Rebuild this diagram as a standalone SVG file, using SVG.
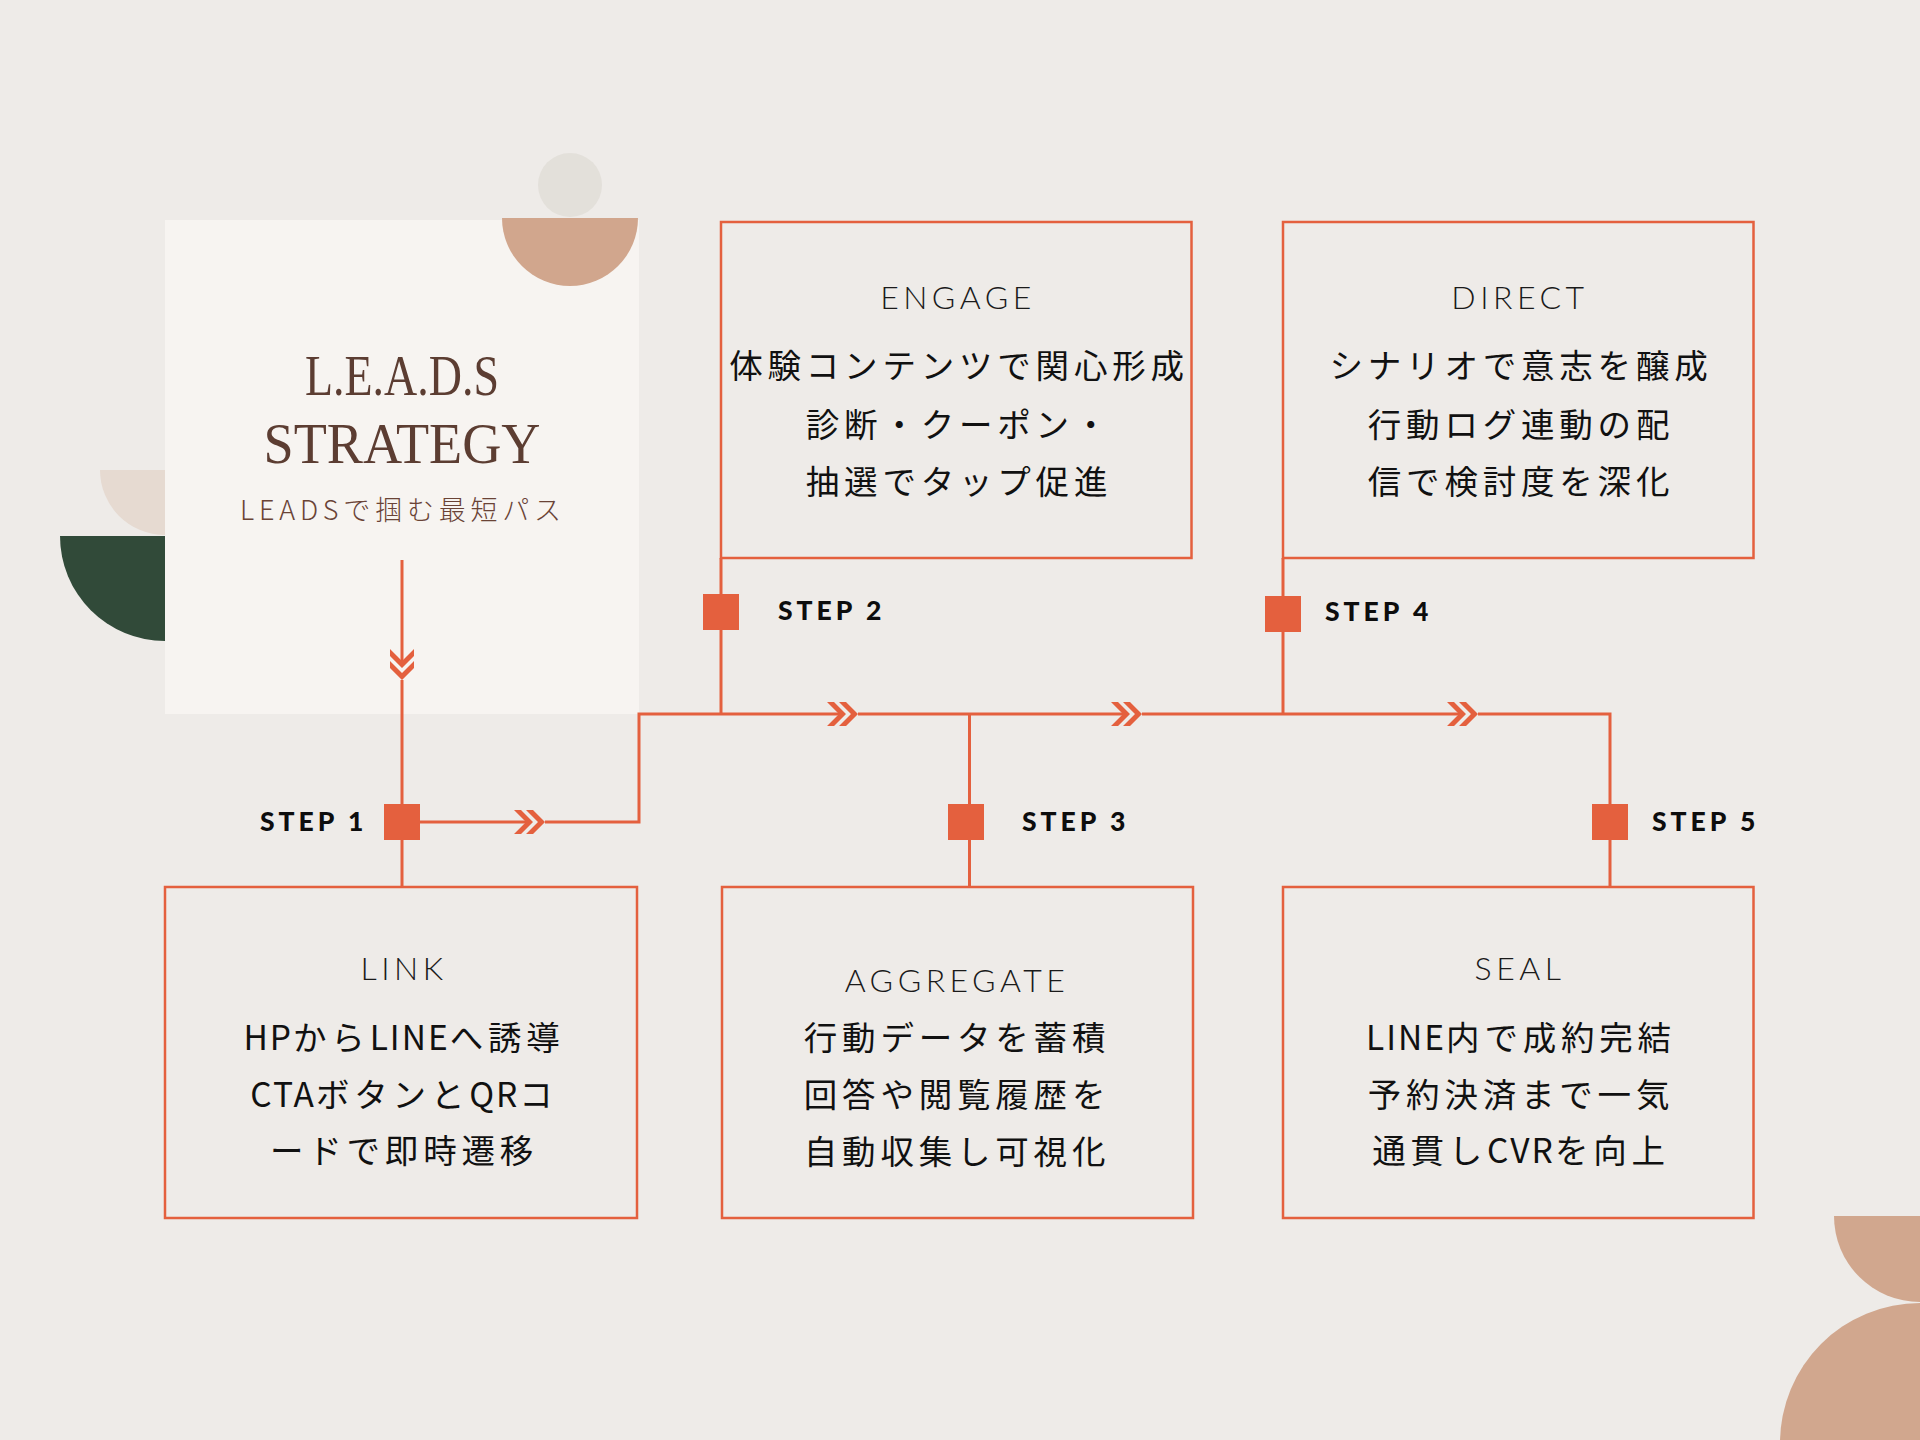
<svg xmlns="http://www.w3.org/2000/svg" xmlns:xlink="http://www.w3.org/1999/xlink" width="1920" height="1440" viewBox="0 0 1920 1440">
<defs>
<style>
.box{fill:none;stroke:#E4603E;stroke-width:2.5}
.ln{fill:none;stroke:#E4603E;stroke-width:3}
.sq{fill:#E4603E}
.chev{fill:#E4603E}
.ttl{font-family:"Lato","Inter","Liberation Sans",sans-serif;font-weight:300;font-size:32px;letter-spacing:4.5px;fill:#1A1A1A;text-anchor:middle}
.jp{font-family:"Noto Sans CJK JP","Noto Sans",sans-serif;font-weight:400;font-size:33.5px;letter-spacing:4.8px;fill:#111111;text-anchor:middle}
.lat{letter-spacing:2px}
.step{font-family:"Lato","Inter","Liberation Sans",sans-serif;font-weight:900;font-size:26.5px;letter-spacing:4px;fill:#0D0D0D}
.head{font-family:"Liberation Serif","DejaVu Serif",serif;font-size:56px;fill:#5C3D32;text-anchor:middle}
.sub{font-family:"Noto Sans CJK JP","Noto Sans",sans-serif;font-weight:300;font-size:27px;letter-spacing:4.8px;fill:#6A4336;text-anchor:middle}
</style>
<path id="chevR" d="M-31,-12 L-24,-12 L-12,0 L-24,12 L-31,12 L-19,0 Z M-19,-12 L-12,-12 L0,0 L-12,12 L-19,12 L-7,0 Z"/>
</defs>
<rect width="1920" height="1440" fill="#EEEBE8"/>
<g id="decor">
<circle cx="570" cy="185" r="32" fill="#E3E0DA"/>
<path d="M100,470 A65,65 0 0 0 230,470 Z" fill="#E6DAD1"/>
<path d="M60,536 A105,105 0 0 0 270,536 Z" fill="#314A39"/>
<path d="M1834,1216 A86,86 0 0 0 2006,1216 Z" fill="#D1A78E"/>
<circle cx="1920" cy="1443" r="140" fill="#D1A78E"/>
</g>
<g id="title-panel">
<rect x="165" y="220" width="474" height="494" fill="#F7F4F1"/>
<path d="M502,218 A68,68 0 0 0 638,218 Z" fill="#D1A68D"/>
<text class="head" x="402" y="395" textLength="194" lengthAdjust="spacingAndGlyphs">L.E.A.D.S</text>
<text class="head" x="402" y="463" textLength="277" lengthAdjust="spacingAndGlyphs">STRATEGY</text>
<text class="sub" x="403" y="520">LEADSで掴む最短パス</text>
</g>
<g id="connectors">
<path class="ln" d="M402,560 V661 M402,680 V887"/>
<path class="ln" d="M420,822 H526 M545,822 H639 V714 H839 M858,714 H1123 M1142,714 H1459 M1478,714 H1610 V887"/>
<path class="ln" d="M721,558 V714"/>
<path class="ln" d="M969.5,714 V887"/>
<path class="ln" d="M1283,558 V714"/>
<use xlink:href="#chevR" href="#chevR" class="chev" transform="translate(402,680) rotate(90)"/>
<use xlink:href="#chevR" href="#chevR" class="chev" transform="translate(545,822)"/>
<use xlink:href="#chevR" href="#chevR" class="chev" transform="translate(858,714)"/>
<use xlink:href="#chevR" href="#chevR" class="chev" transform="translate(1142,714)"/>
<use xlink:href="#chevR" href="#chevR" class="chev" transform="translate(1478,714)"/>
</g>
<g id="step1">
<rect class="sq" x="384" y="804" width="36" height="36"/>
<text class="step" x="260" y="831">STEP 1</text>
</g>
<g id="step2">
<rect class="sq" x="703" y="594" width="36" height="36"/>
<text class="step" x="778" y="620">STEP 2</text>
</g>
<g id="step3">
<rect class="sq" x="948" y="804" width="36" height="36"/>
<text class="step" x="1022" y="831">STEP 3</text>
</g>
<g id="step4">
<rect class="sq" x="1265" y="596" width="36" height="36"/>
<text class="step" x="1325" y="621">STEP 4</text>
</g>
<g id="step5">
<rect class="sq" x="1592" y="804" width="36" height="36"/>
<text class="step" x="1652" y="831">STEP 5</text>
</g>
<g id="engage">
<rect class="box" x="721" y="222" width="470.5" height="336"/>
<text class="ttl" x="958" y="309">ENGAGE</text>
<text class="jp" x="959" y="378">体験コンテンツで関心形成</text>
<text class="jp" x="959" y="437">診断・クーポン・</text>
<text class="jp" x="959" y="494">抽選でタップ促進</text>
</g>
<g id="direct">
<rect class="box" x="1283" y="222" width="470.5" height="336"/>
<text class="ttl" x="1520" y="309">DIRECT</text>
<text class="jp" x="1521" y="378">シナリオで意志を醸成</text>
<text class="jp" x="1521" y="437">行動ログ連動の配</text>
<text class="jp" x="1521" y="494">信で検討度を深化</text>
</g>
<g id="link">
<rect class="box" x="165" y="887" width="472" height="331"/>
<text class="ttl" x="404" y="980">LINK</text>
<text class="jp" x="404" y="1050"><tspan class="lat">HP</tspan>から<tspan class="lat">LINE</tspan>へ誘導</text>
<text class="jp" x="404" y="1107"><tspan class="lat">CTA</tspan>ボタンと<tspan class="lat">QR</tspan>コ</text>
<text class="jp" x="404" y="1163">ードで即時遷移</text>
</g>
<g id="aggregate">
<rect class="box" x="722" y="887" width="471" height="331"/>
<text class="ttl" x="957" y="992">AGGREGATE</text>
<text class="jp" x="957" y="1050">行動データを蓄積</text>
<text class="jp" x="957" y="1107">回答や閲覧履歴を</text>
<text class="jp" x="957" y="1164">自動収集し可視化</text>
</g>
<g id="seal">
<rect class="box" x="1283" y="887" width="470.5" height="331"/>
<text class="ttl" x="1520" y="980">SEAL</text>
<text class="jp" x="1521" y="1050"><tspan class="lat">LINE</tspan>内で成約完結</text>
<text class="jp" x="1521" y="1107">予約決済まで一気</text>
<text class="jp" x="1521" y="1163">通貫し<tspan class="lat">CVR</tspan>を向上</text>
</g>
</svg>
